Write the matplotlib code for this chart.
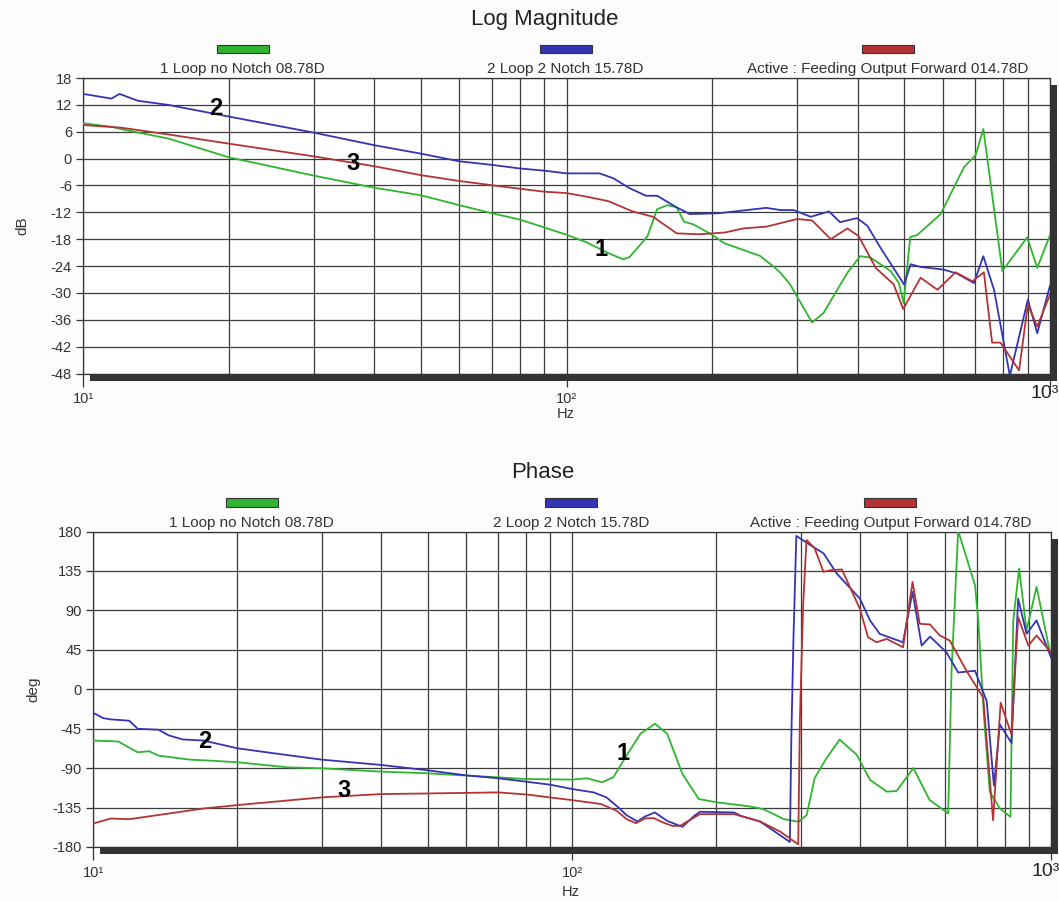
import matplotlib.pyplot as plt
from matplotlib.patches import Rectangle
from matplotlib.ticker import LogLocator, NullFormatter

# Bode plot, 3 loops: magnitude (dB) and phase (deg) against frequency (Hz)

W, H = 1059, 901
plt.rcParams['font.family'] = ['Liberation Sans', 'DejaVu Sans']
plt.rcParams['axes.unicode_minus'] = False

series_names = ['1 Loop no Notch 08.78D', '2 Loop 2 Notch 15.78D',
                'Active : Feeding Output Forward 014.78D']
series_colors = ['#2fb52f', '#3434b4', '#b43434']

# --- log magnitude ---
mag1_f = [10, 11.45, 12.2, 15, 20, 30, 40, 50, 60, 70, 80, 90, 100, 110, 122, 131, 135,
          147, 154, 162, 169, 175, 183, 200, 212, 251, 268, 277, 290, 322, 340, 381, 405,
          425, 468, 487, 498, 514, 531, 594, 664, 702, 728, 797, 897, 941, 1000]
mag1 = [7.9, 7.1, 6.4, 4.5, 0.3, -3.8, -6.5, -8.2, -10.4, -12.2, -13.6, -15.4, -17.0, -18.7,
        -21.1, -22.5, -22.0, -17.4, -11.3, -10.4, -10.9, -14.1, -14.7, -17.0, -18.9, -21.7,
        -24.1, -25.5, -28.1, -36.6, -34.5, -25.5, -21.8, -22.1, -25.1, -27.8, -32.3, -17.5,
        -17.1, -12.4, -1.9, 0.8, 6.6, -25.1, -17.6, -24.4, -17.1]

mag2_f = [10, 11.45, 11.9, 13, 15, 20, 30, 40, 50, 60, 70, 80, 90, 100, 117, 125, 135, 146,
          154, 169, 180, 207, 259, 277, 295, 320, 349, 368, 399, 419, 446, 499, 515, 540,
          603, 643, 696, 728, 766, 826, 900, 941, 1000]
mag2 = [14.45, 13.4, 14.45, 12.9, 12.0, 9.4, 5.8, 3.0, 1.1, -0.6, -1.4, -2.2, -2.7, -3.3,
        -3.3, -4.4, -6.6, -8.3, -8.3, -10.9, -12.4, -12.2, -11.0, -11.5, -11.5, -13.0, -11.8,
        -14.2, -13.3, -15.0, -19.9, -28.1, -23.6, -24.2, -24.8, -25.7, -27.8, -21.8, -29.3,
        -48.5, -31.5, -39.0, -28.4]

mag3_f = [10, 12, 15, 20, 30, 40, 50, 60, 73, 90, 100, 110, 122, 137, 151, 169, 188, 213,
          232, 259, 300, 322, 352, 381, 402, 436, 475, 497, 540, 585, 638, 691, 730, 759,
          790, 863, 900, 941, 1000]
mag3 = [7.5, 6.9, 5.4, 3.35, 0.5, -1.7, -3.7, -5.0, -6.2, -7.4, -7.7, -8.5, -9.5, -11.8,
        -13.0, -16.7, -16.9, -16.5, -15.6, -15.2, -13.5, -13.8, -18.0, -15.6, -17.3, -24.4,
        -28.1, -33.6, -26.6, -29.3, -25.4, -27.4, -25.4, -41.1, -41.1, -47.3, -32.6, -37.5,
        -30.4]

# --- phase ---
ph1_f = [10, 11.3, 11.85, 12.4, 13.1, 13.7, 15.9, 17.5, 20, 25.5, 30, 40, 50, 60, 70, 80,
         100, 107.5, 115.5, 122, 130, 139, 149, 158, 170, 184, 201, 235, 251, 277, 297, 309,
         321, 340, 362, 393, 419, 454, 476, 516, 558, 610, 620, 640, 694, 705, 724, 745, 782,
         823, 834, 858, 889, 933, 1000]
ph1 = [-58.5, -59.6, -66.1, -71.9, -70.7, -75.7, -80.3, -81.4, -83.3, -89.1, -90.2, -94.0,
       -95.9, -98.5, -100.5, -102.4, -103.1, -101.6, -106.2, -100.4, -75.6, -50.7, -39.3,
       -50.7, -96.6, -125.3, -129.1, -133.7, -136.8, -148.2, -151.3, -143.6, -101.5, -78.5,
       -57.5, -74.7, -103.4, -116.8, -116.1, -90.0, -126.4, -141.7, 21.1, 181, 118.7, 78.5,
       -28.7, -116.8, -136.0, -145.6, 78.5, 137.9, 67.0, 116.8, 36.4]

ph2_f = [10, 10.5, 10.9, 11.9, 12.4, 13.7, 14.4, 15.4, 17, 20, 23.5, 30, 40, 50, 60, 70, 80,
         90, 100, 111, 118, 125, 130, 137, 142, 149, 158, 170, 180, 185, 218, 225, 247, 283,
         285, 287, 290, 294, 314, 335, 357, 399, 419, 439, 491, 514, 537, 559, 605, 640, 694,
         734, 760, 782, 827, 854, 889, 933, 1000]
ph2 = [-26.8, -32.9, -34.4, -35.9, -45.1, -46.2, -52.7, -57.3, -58.5, -67.3, -72.6, -80.3,
       -86.4, -92.5, -98.2, -101.5, -105.4, -108.9, -113.8, -117.7, -123.4, -134.9, -143.7,
       -150.9, -145.2, -140.6, -150.2, -157.0, -144.4, -139.8, -140.6, -144.4, -150.9, -173.1,
       -174.3, -55.5, 59.4, 175.0, 164.7, 155.1, 132.1, 103.4, 78.5, 63.2, 53.6, 111.1, 49.8,
       60.1, 42.1, 19.1, 21.1, -13.4, -110.0, -40.2, -61.3, 103.4, 63.2, 78.5, 36.4]

ph3_f = [10, 10.9, 11.9, 17, 20, 30, 40, 50, 70, 80, 100, 115, 124, 130, 136, 142, 148, 155,
         162, 168, 180, 185, 218, 228, 247, 272, 296.7, 299, 303.9, 308.7, 321, 335, 348, 366,
         399, 415, 432, 454, 491, 514, 532, 559, 586, 615, 666, 722, 757, 785, 827, 854, 897,
         933, 1000]
ph3 = [-153.3, -147.5, -148.3, -136.1, -132.2, -123.4, -119.6, -118.9, -117.7, -120.0,
       -126.5, -131.0, -138.7, -148.2, -152.8, -147.4, -147.0, -152.1, -155.9, -155.9, -146.3,
       -142.5, -142.5, -145.6, -150.9, -162.4, -177.0, -36.0, 97.7, 170.4, 160.9, 134.0,
       136.0, 136.7, 91.9, 59.4, 53.6, 57.4, 47.9, 122.5, 74.7, 73.9, 61.3, 55.5, 21.1, -9.6,
       -149.4, -15.3, -51.7, 82.3, 49.8, 61.3, 42.1]

# curve number labels (text, freq, value)
mag_marks = [('2', 18.8, 11.1), ('3', 36.1, -1.2), ('1', 118, -20.4)]
ph_marks = [('2', 17.1, -59.3), ('3', 33.4, -115.8), ('1', 127.6, -73.3)]

mag_ticks = list(range(18, -49, -6))
ph_ticks = list(range(180, -181, -45))


def fig_box(x0, y0, x1, y1):
    # pixel box (top-left origin) -> figure fraction [l, b, w, h]
    return [x0 / W, 1 - y1 / H, (x1 - x0) / W, (y1 - y0) / H]


fig = plt.figure(figsize=(W / 100, H / 100), dpi=100, facecolor='#fcfcfc')


def make_panel(box, title, title_xy, legend_y, legend_x, ylabel, yticks, ylim,
               curves, marks, big_off, hz_y):
    ax = fig.add_axes(fig_box(*box))
    # drop shadow behind the frame
    x0, y0, x1, y1 = box
    fig.patches.append(Rectangle(((x0 + 7) / W, 1 - (y1 + 7) / H), (x1 - x0) / W,
                                 (y1 - y0) / H, transform=fig.transFigure,
                                 facecolor='#333333', edgecolor='none', zorder=-1))
    for (f, v), c in zip(curves, series_colors):
        ax.plot(f, v, color=c, lw=1.3, zorder=3)
    for t, f, v in marks:
        ax.text(f, v, t, fontsize=17, fontweight='bold', ha='center', va='center',
                color='black', zorder=4)

    ax.set_xscale('log')
    ax.set_xlim(10, 1000)
    ax.set_ylim(*ylim)
    ax.set_yticks(yticks)
    ax.set_xticks([10, 100, 1000], ['10¹', '10²', ''])
    ax.xaxis.set_minor_locator(LogLocator(base=10, subs=range(2, 10)))
    ax.xaxis.set_minor_formatter(NullFormatter())
    ax.grid(True, which='both', axis='x', color='#3c3c3c', lw=0.9)
    ax.grid(True, which='major', axis='y', color='#3c3c3c', lw=0.9)
    ax.set_axisbelow(True)
    ax.tick_params(axis='y', direction='out', length=5, width=0.9, color='#333333',
                   labelsize=10.5, labelcolor='#333333', pad=3)
    ax.tick_params(axis='x', which='major', direction='out', length=9.5, width=0.9,
                   color='#333333', labelsize=10.5, labelcolor='#333333', pad=4)
    ax.tick_params(axis='x', which='minor', length=0)
    for s in ax.spines.values():
        s.set_color('#333333')
        s.set_linewidth(0.9)
    ax.annotate('10³', xy=(1, 0), xycoords='axes fraction', xytext=big_off,
                textcoords='offset points', ha='center', va='center', fontsize=14,
                color='#222222')
    ax.set_xlabel('Hz', fontsize=10.5, color='#333333')
    ax.xaxis.set_label_coords(0.499, hz_y)
    ax.set_ylabel(ylabel, fontsize=11, color='#333333')
    ax.yaxis.set_label_coords(-0.055, 0.5)

    fig.text(title_xy[0] / W, 1 - title_xy[1] / H, title, ha='center', va='center',
             fontsize=16, color='#222222')
    for name, c, (rx, tx) in zip(series_names, series_colors, legend_x):
        fig.patches.append(Rectangle((rx / W, 1 - (legend_y + 9) / H), 52 / W, 8.5 / H,
                                     transform=fig.transFigure, facecolor=c,
                                     edgecolor='#333333', lw=0.8))
        fig.text(tx / W, 1 - (legend_y + 25) / H, name, ha='center', va='center',
                 fontsize=11, color='#333333')
    return ax


make_panel((83, 78, 1050, 373.5), 'Log Magnitude', (545, 20), 44,
           [(217, 242), (540, 565), (862, 888)], 'dB', mag_ticks, (-48, 18),
           [(mag1_f, mag1), (mag2_f, mag2), (mag3_f, mag3)], mag_marks, (-4, -14.5),
           -0.115)
make_panel((93, 531.5, 1051, 847), 'Phase', (543, 472), 497.5,
           [(226, 251), (545, 571), (864, 891)], 'deg', ph_ticks, (-180, 180),
           [(ph1_f, ph1), (ph2_f, ph2), (ph3_f, ph3)], ph_marks, (-4, -17.5),
           -0.122)

fig.savefig('out.png', dpi=100, facecolor=fig.get_facecolor())
